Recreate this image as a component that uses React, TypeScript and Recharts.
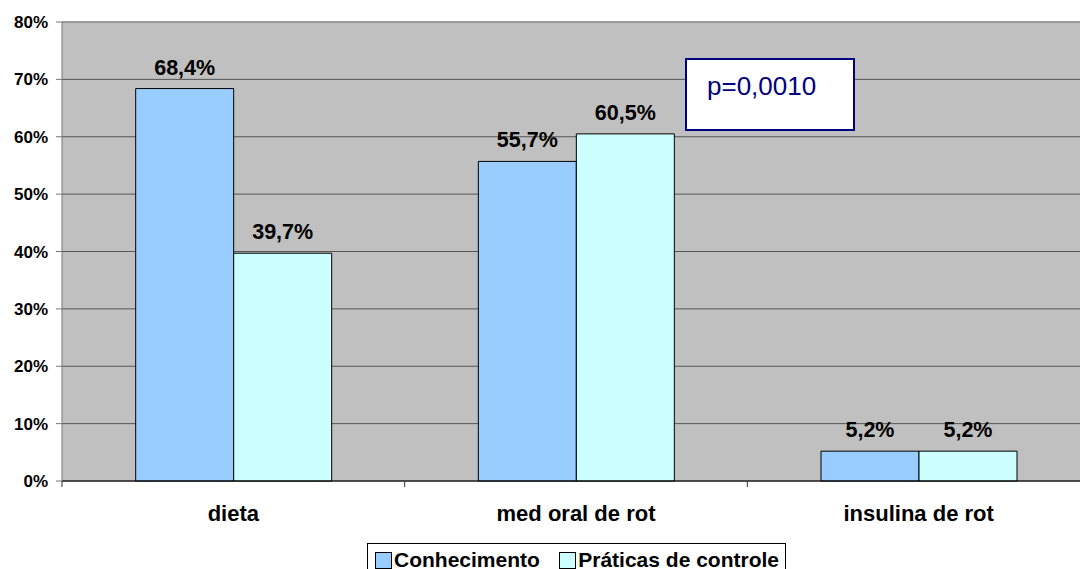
import React from 'react';
import { BarChart, Bar, XAxis, YAxis, CartesianGrid, Legend, LabelList, ReferenceLine } from 'recharts';

const categories = ['dieta', 'med oral de rot', 'insulina de rot'];
const conhecimento = [68.4, 55.7, 5.2];
const praticas = [39.7, 60.5, 5.2];
const yTicks = [0, 10, 20, 30, 40, 50, 60, 70, 80];

const data = categories.map((name, i) => ({
  name,
  conhecimento: conhecimento[i],
  praticas: praticas[i],
}));

const W = 1080;
const H = 569;
const CHART_W = 1090; // plot runs a little past the right edge of the picture
const PLOT_LEFT = 62;
const BAND = (CHART_W - PLOT_LEFT) / categories.length;
const FONT = "Arial, 'Liberation Sans', sans-serif";

const fmt = (v: any) => `${Number(v).toFixed(1).replace('.', ',')}%`;

const XTick = (props: any) => {
  const { x, y, payload } = props;
  const left = x - BAND / 2;
  return (
    <g>
      <line x1={left} y1={y - 8} x2={left} y2={y - 2} stroke="#333" strokeWidth={1} />
      <text x={x} y={y + 32} textAnchor="middle" fontFamily={FONT} fontWeight="bold" fontSize={22} fill="#000">
        {payload.value}
      </text>
    </g>
  );
};

const swatch = (color: string) => (
  <span
    style={{
      display: 'inline-block',
      width: 15,
      height: 15,
      border: '1px solid #000',
      background: color,
      marginTop: 2,
      marginRight: 2,
      flex: 'none',
    }}
  />
);

const LegendContent = () => (
  <div
    style={{
      display: 'flex',
      alignItems: 'flex-start',
      justifyContent: 'space-between',
      border: '1px solid #000',
      background: '#fff',
      padding: '6px 6px 0 7px',
      width: 419,
      height: 40,
      boxSizing: 'border-box',
      fontFamily: FONT,
      fontWeight: 'bold',
      fontSize: 21,
      lineHeight: '19px',
      color: '#000',
      whiteSpace: 'nowrap',
    }}
  >
    <span style={{ display: 'flex' }}>
      {swatch('#99CCFF')}
      <span>Conhecimento</span>
    </span>
    <span style={{ display: 'flex' }}>
      {swatch('#CCFFFF')}
      <span>Práticas de controle</span>
    </span>
  </div>
);

const labelStyle = { fontFamily: FONT, fontWeight: 'bold', fontSize: 21.5, fill: '#000' };

export default function App() {
  return (
    <div style={{ position: 'absolute', left: 0, top: 0, width: W, height: H, background: '#fff', overflow: 'hidden' }}>
      <BarChart
        width={CHART_W}
        height={H}
        data={data}
        margin={{ top: 22, right: 0, left: 0, bottom: 0 }}
        barCategoryGap="21.5%"
        barGap={0}
      >
        <CartesianGrid vertical={false} fill="#C0C0C0" stroke="#555" strokeOpacity={1} />
        <XAxis
          dataKey="name"
          height={62}
          axisLine={{ stroke: '#000' }}
          tickLine={false}
          tick={<XTick />}
          interval={0}
        />
        <YAxis
          width={PLOT_LEFT}
          domain={[0, 80]}
          ticks={yTicks}
          axisLine={{ stroke: '#777' }}
          tickLine={{ stroke: '#777' }}
          tickSize={6}
          tickMargin={8}
          tickFormatter={(v) => `${v}%`}
          tick={{ fontFamily: FONT, fontWeight: 'bold', fontSize: 17, fill: '#000' }}
          interval={0}
        />
        <ReferenceLine y={80} stroke="#999" />
        <Legend
          verticalAlign="bottom"
          align="left"
          content={<LegendContent />}
          wrapperStyle={{ left: 367, top: 543, bottom: 'auto', width: 420, height: 26 }}
        />
        <Bar dataKey="conhecimento" fill="#99CCFF" stroke="#000" strokeWidth={1} isAnimationActive={false}>
          <LabelList dataKey="conhecimento" position="top" offset={14} formatter={fmt} style={labelStyle} />
        </Bar>
        <Bar dataKey="praticas" fill="#CCFFFF" stroke="#000" strokeWidth={1} isAnimationActive={false}>
          <LabelList dataKey="praticas" position="top" offset={14} formatter={fmt} style={labelStyle} />
        </Bar>
      </BarChart>
      <div
        style={{
          position: 'absolute',
          left: 685,
          top: 58,
          width: 166,
          height: 69,
          background: '#fff',
          border: '2px solid #000080',
          color: '#000080',
          fontFamily: FONT,
          fontSize: 26,
          boxSizing: 'content-box',
        }}
      >
        <div style={{ position: 'absolute', left: 20, top: 11, lineHeight: '30px' }}>p=0,0010</div>
      </div>
    </div>
  );
}
